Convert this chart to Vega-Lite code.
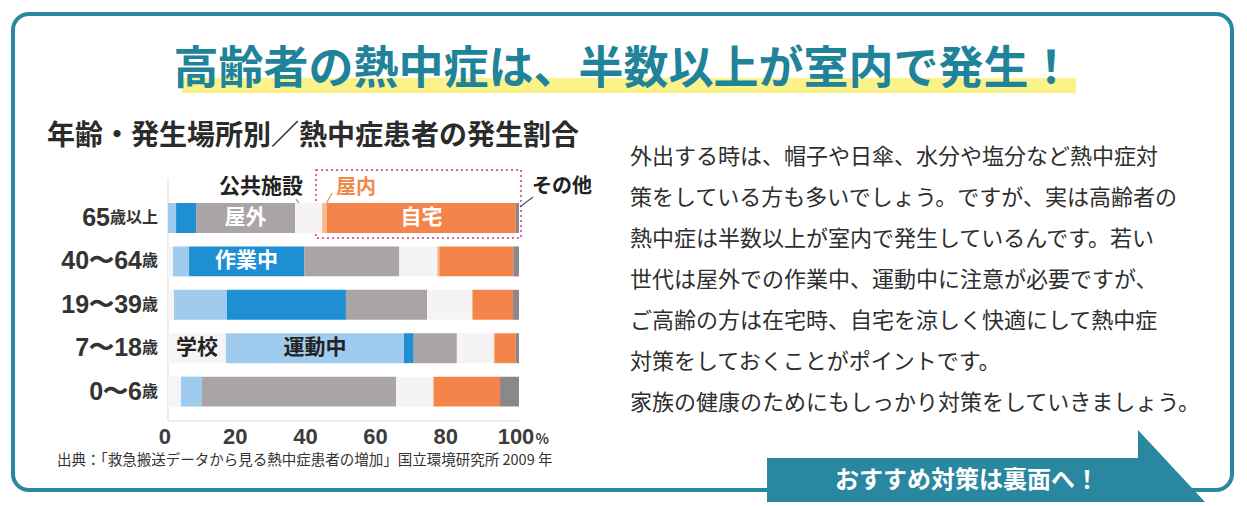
{
  "$schema": "https://vega.github.io/schema/vega-lite/v6.json",
  "width": 1247,
  "height": 506,
  "autosize": {"type": "none"},
  "padding": 0,
  "background": "white",
  "config": {"view": {"stroke": null}, "font": "Noto Sans CJK JP"},
  "datasets": {
    "bars": [
      {"age": "65歳以上", "place": "学校", "pct": 0},
      {"age": "65歳以上", "place": "運動中", "pct": 2.3},
      {"age": "65歳以上", "place": "作業中", "pct": 5.7},
      {"age": "65歳以上", "place": "屋外", "pct": 28.2, "label": "屋外"},
      {"age": "65歳以上", "place": "公共施設", "pct": 7.7},
      {"age": "65歳以上", "place": "屋内", "pct": 1.4},
      {"age": "65歳以上", "place": "自宅", "pct": 53.8, "label": "自宅"},
      {"age": "65歳以上", "place": "その他", "pct": 0.9},
      {"age": "40〜64歳", "place": "学校", "pct": 1.4},
      {"age": "40〜64歳", "place": "運動中", "pct": 4.6},
      {"age": "40〜64歳", "place": "作業中", "pct": 32.8, "label": "作業中"},
      {"age": "40〜64歳", "place": "屋外", "pct": 27.1},
      {"age": "40〜64歳", "place": "公共施設", "pct": 10.8},
      {"age": "40〜64歳", "place": "屋内", "pct": 0.6},
      {"age": "40〜64歳", "place": "自宅", "pct": 21.1},
      {"age": "40〜64歳", "place": "その他", "pct": 1.6},
      {"age": "19〜39歳", "place": "学校", "pct": 1.7},
      {"age": "19〜39歳", "place": "運動中", "pct": 15.1},
      {"age": "19〜39歳", "place": "作業中", "pct": 33.9},
      {"age": "19〜39歳", "place": "屋外", "pct": 23.1},
      {"age": "19〜39歳", "place": "公共施設", "pct": 12.8},
      {"age": "19〜39歳", "place": "屋内", "pct": 0.3},
      {"age": "19〜39歳", "place": "自宅", "pct": 11.4},
      {"age": "19〜39歳", "place": "その他", "pct": 1.7},
      {"age": "7〜18歳", "place": "学校", "pct": 16.5, "label": "学校"},
      {"age": "7〜18歳", "place": "運動中", "pct": 50.7, "label": "運動中"},
      {"age": "7〜18歳", "place": "作業中", "pct": 2.8},
      {"age": "7〜18歳", "place": "屋外", "pct": 12.3},
      {"age": "7〜18歳", "place": "公共施設", "pct": 10.5},
      {"age": "7〜18歳", "place": "屋内", "pct": 0.3},
      {"age": "7〜18歳", "place": "自宅", "pct": 6.0},
      {"age": "7〜18歳", "place": "その他", "pct": 0.9},
      {"age": "0〜6歳", "place": "学校", "pct": 3.7},
      {"age": "0〜6歳", "place": "運動中", "pct": 6.0},
      {"age": "0〜6歳", "place": "作業中", "pct": 0},
      {"age": "0〜6歳", "place": "屋外", "pct": 55.3},
      {"age": "0〜6歳", "place": "公共施設", "pct": 10.5},
      {"age": "0〜6歳", "place": "屋内", "pct": 0.3},
      {"age": "0〜6歳", "place": "自宅", "pct": 18.8},
      {"age": "0〜6歳", "place": "その他", "pct": 5.4}
    ],
    "ages": [
      {"age": "65歳以上", "num": "65", "suffix": "歳以上"},
      {"age": "40〜64歳", "num": "40〜64", "suffix": "歳"},
      {"age": "19〜39歳", "num": "19〜39", "suffix": "歳"},
      {"age": "7〜18歳", "num": "7〜18", "suffix": "歳"},
      {"age": "0〜6歳", "num": "0〜6", "suffix": "歳"}
    ],
    "ticks": [
      {"tick": 0}, {"tick": 20}, {"tick": 40}, {"tick": 60}, {"tick": 80}, {"tick": 100}
    ]
  },
  "resolve": {"scale": {"y": "independent"}},
  "layer": [
    {
      "data": {"values": [{}]},
      "layer": [
        {
          "mark": {"type": "rect", "fill": null, "fillOpacity": 0, "stroke": "#2a87a0", "strokeWidth": 4, "cornerRadius": 16},
          "encoding": {
            "x": {"datum": -44.16, "type": "quantitative", "scale": {"domain": [-47.863, 307.407], "nice": false, "zero": false}, "axis": null},
            "x2": {"datum": 303.13},
            "y": {"datum": 2.77, "type": "quantitative", "scale": {"domain": [0, 100], "reverse": true, "nice": false, "zero": false}, "axis": null},
            "y2": {"datum": 96.84}
          }
        },
        {
          "mark": {"type": "rect", "fill": "#fbf27c", "opacity": 0.9},
          "encoding": {
            "x": {"datum": 3.99, "type": "quantitative", "axis": null},
            "x2": {"datum": 258.69},
            "y": {"datum": 15.42, "type": "quantitative", "axis": null},
            "y2": {"datum": 18.38}
          }
        },
        {
          "mark": {"type": "text", "text": "高齢者の熱中症は、半数以上が室内で発生！", "fontSize": 45, "fontWeight": "bold", "fill": "#1f8399", "align": "center", "baseline": "middle"},
          "encoding": {
            "x": {"datum": 129.8, "type": "quantitative", "axis": null},
            "y": {"datum": 13.83, "type": "quantitative", "axis": null}
          }
        },
        {
          "mark": {"type": "text", "text": "年齢・発生場所別／熱中症患者の発生割合", "fontSize": 28, "fontWeight": "bold", "fill": "#2b2b2b", "align": "left", "baseline": "middle"},
          "encoding": {
            "x": {"datum": -34.47, "type": "quantitative", "axis": null},
            "y": {"datum": 27.08, "type": "quantitative", "axis": null}
          }
        },
        {
          "mark": {"type": "rect", "fill": null, "fillOpacity": 0, "stroke": "#d46a98", "strokeWidth": 2, "strokeDash": [2, 3]},
          "encoding": {
            "x": {"datum": 42.17, "type": "quantitative", "axis": null},
            "x2": {"datum": 100.57},
            "y": {"datum": 33.6, "type": "quantitative", "axis": null},
            "y2": {"datum": 47.04}
          }
        },
        {
          "mark": {"type": "text", "text": "公共施設", "fontSize": 21, "fontWeight": "bold", "fill": "#222222", "align": "center", "baseline": "middle"},
          "encoding": {
            "x": {"datum": 26.5, "type": "quantitative", "axis": null},
            "y": {"datum": 36.96, "type": "quantitative", "axis": null}
          }
        },
        {
          "mark": {"type": "text", "text": "屋内", "fontSize": 20, "fontWeight": "bold", "fill": "#f08a4b", "align": "center", "baseline": "middle"},
          "encoding": {
            "x": {"datum": 53.56, "type": "quantitative", "axis": null},
            "y": {"datum": 37.15, "type": "quantitative", "axis": null}
          }
        },
        {
          "mark": {"type": "text", "text": "その他", "fontSize": 20, "fontWeight": "bold", "fill": "#222222", "align": "center", "baseline": "middle"},
          "encoding": {
            "x": {"datum": 112.25, "type": "quantitative", "axis": null},
            "y": {"datum": 36.96, "type": "quantitative", "axis": null}
          }
        },
        {
          "mark": {"type": "rule", "stroke": "#8a8a8a", "strokeWidth": 1.2},
          "encoding": {
            "x": {"datum": 36.47, "type": "quantitative", "axis": null},
            "x2": {"datum": 38.75},
            "y": {"datum": 39.33, "type": "quantitative", "axis": null},
            "y2": {"datum": 41.7}
          }
        },
        {
          "mark": {"type": "rule", "stroke": "#f08a4b", "strokeWidth": 1.2},
          "encoding": {
            "x": {"datum": 46.72, "type": "quantitative", "axis": null},
            "x2": {"datum": 45.01},
            "y": {"datum": 38.14, "type": "quantitative", "axis": null},
            "y2": {"datum": 40.32}
          }
        },
        {
          "mark": {"type": "rule", "stroke": "#555555", "strokeWidth": 1.2},
          "encoding": {
            "x": {"datum": 103.99, "type": "quantitative", "axis": null},
            "x2": {"datum": 100.28},
            "y": {"datum": 38.93, "type": "quantitative", "axis": null},
            "y2": {"datum": 40.91}
          }
        },
        {
          "mark": {"type": "rule", "stroke": "#dcdcdc", "strokeWidth": 1},
          "encoding": {
            "x": {"datum": 0, "type": "quantitative", "axis": null},
            "y": {"datum": 35.18, "type": "quantitative", "axis": null},
            "y2": {"datum": 83.2}
          }
        },
        {
          "mark": {"type": "rule", "stroke": "#dcdcdc", "strokeWidth": 1},
          "encoding": {
            "x": {"datum": 0, "type": "quantitative", "axis": null},
            "x2": {"datum": 100.3},
            "y": {"datum": 83.2, "type": "quantitative", "axis": null}
          }
        },
        {
          "data": {"name": "ticks"},
          "mark": {"type": "text", "fontSize": 22, "fontWeight": "bold", "fill": "#3c3c3c", "align": "center", "baseline": "middle", "font": "Liberation Sans", "dx": -3},
          "encoding": {
            "x": {"field": "tick", "type": "quantitative", "axis": null},
            "y": {"datum": 86.36, "type": "quantitative", "axis": null},
            "text": {"field": "tick", "type": "quantitative"}
          }
        },
        {
          "mark": {"type": "text", "text": "%", "fontSize": 14, "fontWeight": "bold", "fill": "#3c3c3c", "align": "left", "baseline": "middle"},
          "encoding": {
            "x": {"datum": 104.7, "type": "quantitative", "axis": null},
            "y": {"datum": 87.0, "type": "quantitative", "axis": null}
          }
        },
        {
          "mark": {"type": "text", "text": "出典：「救急搬送データから見る熱中症患者の増加」国立環境研究所 2009 年", "fontSize": 14.5, "fill": "#333333", "align": "left", "baseline": "middle"},
          "encoding": {
            "x": {"datum": -31.62, "type": "quantitative", "axis": null},
            "y": {"datum": 91.1, "type": "quantitative", "axis": null}
          }
        },
        {
          "mark": {
            "type": "text",
            "text": [
              "外出する時は、帽子や日傘、水分や塩分など熱中症対",
              "策をしている方も多いでしょう。ですが、実は高齢者の",
              "熱中症は半数以上が室内で発生しているんです。若い",
              "世代は屋外での作業中、運動中に注意が必要ですが、",
              "ご高齢の方は在宅時、自宅を涼しく快適にして熱中症",
              "対策をしておくことがポイントです。",
              "家族の健康のためにもしっかり対策をしていきましょう。"
            ],
            "lineHeight": 41,
            "fontSize": 22,
            "fill": "#2e2e2e",
            "align": "left",
            "baseline": "middle"
          },
          "encoding": {
            "x": {"datum": 131.62, "type": "quantitative", "axis": null},
            "y": {"datum": 31.03, "type": "quantitative", "axis": null}
          }
        },
        {
          "mark": {"type": "point", "shape": "M-6.083,-0.222L4.222,-0.222L4.222,-1L6.083,1L-6.083,1Z", "size": 5184, "filled": true, "fill": "#2a87a0", "opacity": 1, "strokeWidth": 0},
          "encoding": {
            "x": {"datum": 233.05, "type": "quantitative", "axis": null},
            "y": {"datum": 92.09, "type": "quantitative", "axis": null}
          }
        },
        {
          "mark": {"type": "text", "text": "おすすめ対策は裏面へ！", "fontSize": 24, "fontWeight": "bold", "fill": "white", "align": "center", "baseline": "middle"},
          "encoding": {
            "x": {"datum": 227.64, "type": "quantitative", "axis": null},
            "y": {"datum": 95.06, "type": "quantitative", "axis": null}
          }
        }
      ]
    },
    {
      "layer": [
        {
          "data": {"name": "bars"},
          "transform": [
            {"calculate": "indexof(['学校','運動中','作業中','屋外','公共施設','屋内','自宅','その他'], datum.place)", "as": "k"},
            {"stack": "pct", "groupby": ["age"], "sort": [{"field": "k", "order": "ascending"}], "as": ["x0", "x1"]},
            {"calculate": "(datum.x0 + datum.x1) / 2", "as": "xm"}
          ],
          "layer": [
            {
              "mark": {"type": "bar"},
              "encoding": {
                "y": {"field": "age", "type": "nominal", "sort": ["65歳以上", "40〜64歳", "19〜39歳", "7〜18歳", "0〜6歳"], "scale": {"range": [196.3, 413.3], "paddingInner": 0.31, "paddingOuter": 0.155}, "axis": null},
                "x": {"field": "x0", "type": "quantitative", "scale": {"domain": [-47.863, 307.407], "nice": false, "zero": false}, "axis": null},
                "x2": {"field": "x1"},
                "color": {
                  "field": "place", "type": "nominal", "legend": null,
                  "scale": {
                    "domain": ["学校", "運動中", "作業中", "屋外", "公共施設", "屋内", "自宅", "その他"],
                    "range": ["#f6f4f5", "#9fcbee", "#1f8fd4", "#aaa4a7", "#f6f3f3", "#f9b98e", "#f4844a", "#8c878a"]
                  }
                }
              }
            },
            {
              "transform": [{"filter": "datum.label"}],
              "mark": {"type": "text", "fontSize": 21, "fontWeight": "bold", "align": "center", "baseline": "middle"},
              "encoding": {
                "y": {"field": "age", "type": "nominal", "sort": ["65歳以上", "40〜64歳", "19〜39歳", "7〜18歳", "0〜6歳"], "axis": null},
                "x": {"field": "xm", "type": "quantitative", "scale": {"domain": [-47.863, 307.407], "nice": false, "zero": false}, "axis": null},
                "text": {"field": "label"},
                "color": {"condition": {"test": "datum.place === '学校' || datum.place === '運動中'", "value": "#222222"}, "value": "white"}
              }
            }
          ]
        },
        {
          "data": {"name": "ages"},
          "mark": {"type": "text", "fontSize": 16, "fontWeight": "bold", "fill": "#333333", "align": "right", "baseline": "middle"},
          "encoding": {
            "y": {"field": "age", "type": "nominal", "sort": ["65歳以上", "40〜64歳", "19〜39歳", "7〜18歳", "0〜6歳"], "axis": null},
            "x": {"datum": -2.85, "type": "quantitative", "scale": {"domain": [-47.863, 307.407], "nice": false, "zero": false}, "axis": null},
            "text": {"field": "suffix"}
          }
        },
        {
          "data": {"name": "ages"},
          "transform": [{"filter": "datum.suffix === '歳以上'"}],
          "mark": {"type": "text", "fontSize": 25, "fontWeight": "bold", "fill": "#333333", "align": "right", "baseline": "middle", "font": "Liberation Sans"},
          "encoding": {
            "y": {"field": "age", "type": "nominal", "sort": ["65歳以上", "40〜64歳", "19〜39歳", "7〜18歳", "0〜6歳"], "axis": null},
            "x": {"datum": -16.52, "type": "quantitative", "scale": {"domain": [-47.863, 307.407], "nice": false, "zero": false}, "axis": null},
            "text": {"field": "num"}
          }
        },
        {
          "data": {"name": "ages"},
          "transform": [{"filter": "datum.suffix !== '歳以上'"}],
          "mark": {"type": "text", "fontSize": 25, "fontWeight": "bold", "fill": "#333333", "align": "right", "baseline": "middle", "font": "Liberation Sans"},
          "encoding": {
            "y": {"field": "age", "type": "nominal", "sort": ["65歳以上", "40〜64歳", "19〜39歳", "7〜18歳", "0〜6歳"], "axis": null},
            "x": {"datum": -7.41, "type": "quantitative", "scale": {"domain": [-47.863, 307.407], "nice": false, "zero": false}, "axis": null},
            "text": {"field": "num"}
          }
        }
      ]
    }
  ]
}
